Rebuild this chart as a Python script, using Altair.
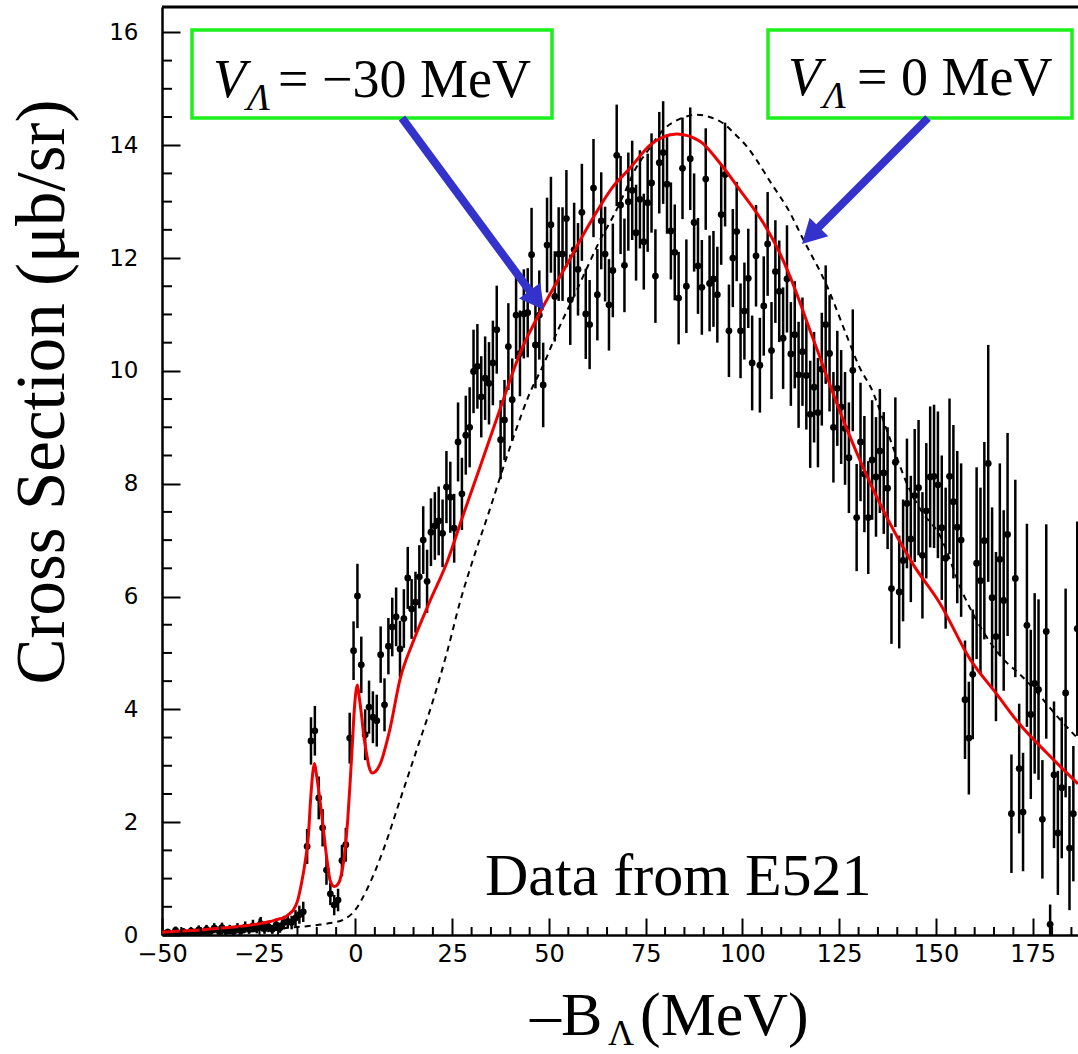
import altair as alt
import pandas as pd

# ---------------- data ----------------
BIN_CENTERS = [i + 0.5 for i in range(-50, 187)]  # 1 MeV bins, -49.5 .. 186.5

COUNTS = [
    0.03, 0.05, 0.01, 0.08, 0.03, 0.06, 0.02, 0.07, 0.05, 0.09,
    0.04, 0.10, 0.06, 0.12, 0.08, 0.13, 0.07, 0.10, 0.06, 0.12,
    0.09, 0.14, 0.10, 0.16, 0.12, 0.20, 0.11, 0.15, 0.10, 0.18,
    0.13, 0.22, 0.24, 0.22, 0.30, 0.36, 0.41, 1.57, 3.44, 3.62,
    2.43, 1.90, 1.15, 0.73, 0.53, 0.62, 1.32, 1.60, 3.49, 5.04,
    6.01, 4.79, 3.55, 4.04, 3.86, 3.80, 4.97, 4.08, 5.12, 5.46,
    5.64, 5.07, 5.61, 6.33, 5.78, 5.90, 6.35, 7.00, 6.27, 7.14,
    7.25, 7.34, 7.12, 7.94, 7.76, 7.21, 8.74, 7.82, 8.86, 9.00,
    9.99, 10.08, 9.54, 9.87, 9.78, 10.14, 10.73, 8.78, 9.13, 10.43,
    9.49, 10.99, 10.31, 11.01, 11.03, 12.06, 10.46, 10.99, 9.75, 12.23,
    12.59, 11.32, 12.07, 12.07, 12.70, 11.26, 12.15, 11.80, 12.81, 11.01,
    10.82, 13.24, 11.35, 12.66, 12.07, 11.17, 11.78, 13.82, 12.94, 11.87,
    13.00, 13.20, 12.45, 13.04, 12.29, 12.98, 13.33, 11.68, 13.69, 13.87,
    13.31, 12.48, 12.10, 11.29, 13.59, 11.50, 13.76, 12.63, 11.86, 11.48,
    13.40, 11.55, 11.63, 11.35, 12.77, 13.48, 10.71, 12.00, 12.47, 10.71,
    11.06, 11.64, 10.14, 12.04, 10.10, 11.15, 12.25, 10.36, 11.76, 11.41,
    10.58, 11.63, 10.30, 10.64, 9.93, 10.34, 9.92, 9.23, 9.71, 9.26,
    10.03, 10.82, 10.31, 9.00, 9.69, 9.36, 8.98, 8.46, 10.01, 7.40,
    8.74, 8.17, 7.40, 8.42, 8.12, 8.58, 8.19, 7.92, 6.14, 8.38,
    6.08, 6.64, 7.65, 7.02, 7.79, 7.93, 6.73, 7.52, 8.12, 8.13,
    7.98, 7.22, 6.68, 8.13, 7.68, 7.23, 7.00, 4.17, 3.49, 4.62,
    6.59, 6.28, 6.99, 8.36, 5.98, 5.29, 6.66, 5.93, 7.10, 2.15,
    6.32, 2.95, 2.18, 5.49, 3.91, 4.46, 4.35, 2.05, 5.38, 0.19,
    2.84, 1.81, 2.61, 4.29, 1.54, 2.15, 5.43,
]

ERRORS = [
    0.05, 0.06, 0.04, 0.07, 0.05, 0.06, 0.04, 0.07, 0.06, 0.08,
    0.05, 0.08, 0.06, 0.09, 0.07, 0.09, 0.07, 0.08, 0.06, 0.09,
    0.08, 0.10, 0.08, 0.11, 0.09, 0.12, 0.09, 0.10, 0.08, 0.11,
    0.09, 0.12, 0.12, 0.12, 0.14, 0.16, 0.18, 0.31, 0.42, 0.44,
    0.38, 0.33, 0.26, 0.20, 0.18, 0.20, 0.28, 0.30, 0.45, 0.52,
    0.57, 0.50, 0.45, 0.47, 0.46, 0.46, 0.50, 0.47, 0.50, 0.52,
    0.52, 0.50, 0.52, 0.55, 0.53, 0.54, 0.56, 0.60, 0.56, 0.60,
    0.60, 0.61, 0.60, 0.64, 0.63, 0.61, 0.70, 0.64, 0.70, 0.71,
    0.74, 0.75, 0.72, 0.74, 0.73, 0.75, 0.78, 0.70, 0.71, 0.77,
    0.73, 0.78, 0.76, 0.79, 0.79, 0.83, 0.77, 0.79, 0.75, 0.84,
    0.85, 0.80, 0.83, 0.83, 0.86, 0.80, 0.83, 0.82, 0.86, 0.80,
    0.79, 0.87, 0.81, 0.86, 0.84, 0.81, 0.83, 0.90, 0.87, 0.83,
    0.87, 0.88, 0.85, 0.87, 0.85, 0.87, 0.88, 0.83, 0.90, 0.91,
    0.88, 0.86, 0.85, 0.82, 0.90, 0.83, 0.91, 0.87, 0.85, 0.84,
    0.90, 0.85, 0.85, 0.85, 0.89, 0.92, 0.82, 0.87, 0.88, 0.84,
    0.86, 0.88, 0.84, 0.90, 0.84, 0.88, 0.92, 0.86, 0.91, 0.90,
    0.90, 0.95, 0.92, 0.95, 0.94, 0.96, 0.96, 0.95, 0.98, 0.97,
    1.00, 1.05, 1.03, 0.98, 1.02, 1.01, 1.00, 0.98, 1.08, 0.95,
    1.05, 1.03, 1.00, 1.06, 1.06, 1.10, 1.08, 1.08, 0.98, 1.15,
    1.00, 1.08, 1.15, 1.12, 1.18, 1.20, 1.12, 1.20, 1.25, 1.27,
    1.30, 1.28, 1.25, 1.38, 1.36, 1.35, 1.36, 1.05, 1.00, 1.15,
    1.70, 1.65, 1.75, 2.10, 1.60, 1.50, 1.70, 1.60, 1.80, 1.05,
    1.75, 1.15, 1.05, 1.80, 1.50, 1.60, 1.60, 1.05, 1.90, 0.35,
    1.30, 1.10, 1.25, 1.85, 1.10, 1.20, 1.90,
]

# V_Lambda = -30 MeV calculation (red, solid)
RED_X = [-50, -45, -40, -35, -30, -25, -22, -20, -18.7, -17, -16, -15, -14, -13,
         -12.2, -11.6, -11.0, -10.6, -10.1, -9.2, -8.5, -7.9, -7.2, -6.6, -5.5,
         -4.8, -4.0, -3.3, -2.7, -2.0, -1.4, -0.8, -0.3, 0.5, 1.0, 1.6, 2.2, 2.7,
         3.5, 4.3, 5.2, 6.3, 8.9, 11.5, 14.9, 19.3, 23.6, 27.9, 32.2, 37.3, 42.5,
         48.5, 54.6, 60.6, 66.6, 70.9, 76.1, 83.0, 89.0, 94.2, 99.4, 105.4, 109.7,
         112.3, 118.3, 126.9, 135.5, 144.1, 151.0, 158.8, 165.7, 171.7, 178.6, 186.7]
RED_Y = [0.05, 0.07, 0.09, 0.12, 0.15, 0.20, 0.24, 0.28, 0.30, 0.38, 0.45, 0.60, 0.90, 1.30,
         1.74, 2.40, 2.90, 3.04, 2.85, 2.40, 2.00, 1.63, 1.25, 0.98, 0.86,
         0.88, 0.98, 1.20, 1.51, 2.05, 2.69, 3.40, 4.00, 4.43, 4.20, 3.87, 3.50, 3.28,
         2.98, 2.87, 2.90, 3.02, 3.65, 4.53, 5.20, 5.93, 6.60, 7.46, 8.30, 9.31, 10.31,
         11.14, 11.88, 12.62, 13.27, 13.59, 14.00, 14.20, 14.07, 13.68, 13.20, 12.62, 12.08,
         11.67, 10.56, 8.98, 7.65, 6.57, 5.88, 4.89, 4.27, 3.73, 3.23, 2.68]

# V_Lambda = 0 MeV calculation (black, dashed)
DASH_X = [-50, -40, -30, -27.3, -18.7, -12, -7.4, -3.2, -0.1, 2.9, 7.2, 11.5, 15.8, 20.1,
          23.6, 27.0, 31.3, 34.5, 37.3, 41.2, 45.0, 48.5, 52.5, 56.3, 60.0, 63.2, 66.6,
          69.5, 72.2, 75.5, 79.5, 84.0, 88.2, 91.5, 95.0, 98.0, 101.1, 104.0, 107.1,
          109.7, 111.4, 115.7, 121.8, 126.9, 130.0, 133.8, 136.5, 139.8, 142.5, 145.9,
          151.0, 157.0, 162.0, 167.4, 172.0, 176.0, 181.0, 186.7]
DASH_Y = [0.0, 0.02, 0.04, 0.06, 0.12, 0.16, 0.20, 0.27, 0.44, 0.80, 1.51, 2.39, 3.28, 4.17,
          5.00, 5.90, 6.85, 7.50, 8.10, 8.90, 9.60, 10.10, 10.75, 11.30, 11.85, 12.32, 12.74,
          13.15, 13.56, 13.90, 14.27, 14.47, 14.54, 14.50, 14.39, 14.20, 13.98, 13.70, 13.36,
          13.09, 12.91, 12.33, 11.51, 10.63, 10.10, 9.61, 9.10, 8.48, 8.00, 7.55,
          7.08, 6.05, 5.40, 4.89, 4.60, 4.31, 3.90, 3.48]

X_MAJOR = [-50, -25, 0, 25, 50, 75, 100, 125, 150, 175]
Y_MAJOR = [0, 2, 4, 6, 8, 10, 12, 14, 16]
X_MINOR = [-45, -40, -35, -30, -20, -15, -10, -5, 5, 10, 15, 20, 30, 35, 40, 45,
           55, 60, 65, 70, 80, 85, 90, 95, 105, 110, 115, 120, 130, 135, 140, 145,
           155, 160, 165, 170, 180, 185]
Y_MINOR = [0.5, 1, 1.5, 2.5, 3, 3.5, 4.5, 5, 5.5, 6.5, 7, 7.5, 8.5, 9, 9.5,
           10.5, 11, 11.5, 12.5, 13, 13.5, 14.5, 15, 15.5]

# ---------------- chart ----------------
W, H = 916, 928
XDOM = [-50, 186.7]
YDOM = [0, 16.45]

df = pd.DataFrame({"x": BIN_CENTERS, "y": COUNTS, "err": ERRORS})
df["lo"] = df["y"] - df["err"]
df["hi"] = df["y"] + df["err"]
red = pd.DataFrame({"x": RED_X, "y": RED_Y})
dash = pd.DataFrame({"x": DASH_X, "y": DASH_Y})

xs = alt.Scale(domain=XDOM, nice=False, zero=False)
ys = alt.Scale(domain=YDOM, nice=False, zero=False)

xaxis = alt.Axis(
    values=X_MAJOR, title=None, grid=False, format="d",
    tickSize={"expr": "-17"},
    labelPadding=24, labelFlush=False, labelOverlap=False,
    labelFont="DejaVu Sans", labelFontSize=24, labelColor="black",
    domainColor="black", domainWidth=2.5, tickColor="black", tickWidth=2,
)
yaxis = alt.Axis(
    values=Y_MAJOR, title=None, grid=False, format="d",
    tickSize={"expr": "-18"},
    labelPadding=42, labelFlush=False, labelOverlap=False,
    labelFont="DejaVu Sans", labelFontSize=23, labelColor="black",
    domainColor="black", domainWidth=2.5, tickColor="black", tickWidth=2,
)

bars = alt.Chart(df).mark_rule(color="black", strokeWidth=2.5, clip=True).encode(
    x=alt.X("x:Q", scale=xs, axis=xaxis),
    y=alt.Y("lo:Q", scale=ys, axis=yaxis),
    y2="hi:Q",
)
pts = alt.Chart(df).mark_circle(color="black", size=46, opacity=1, clip=True).encode(
    x=alt.X("x:Q", scale=xs), y=alt.Y("y:Q", scale=ys)
)
dash_line = alt.Chart(dash).mark_line(
    color="black", strokeWidth=2, strokeDash=[6, 5], interpolate="monotone", clip=True
).encode(x=alt.X("x:Q", scale=xs), y=alt.Y("y:Q", scale=ys))
red_line = alt.Chart(red).mark_line(
    color="#ee0000", strokeWidth=3, interpolate="monotone", clip=True
).encode(x=alt.X("x:Q", scale=xs), y=alt.Y("y:Q", scale=ys))

# minor ticks (inside the frame, like the ROOT style of the reference)
xminor = alt.Chart(pd.DataFrame({"v": X_MINOR})).mark_rule(color="black", strokeWidth=2).encode(
    x=alt.X("v:Q", scale=xs), y=alt.value(H), y2=alt.value(H - 8)
)
yminor = alt.Chart(pd.DataFrame({"v": Y_MINOR})).mark_rule(color="black", strokeWidth=2).encode(
    y=alt.Y("v:Q", scale=ys), x=alt.value(0), x2=alt.value(10)
)

one = alt.Data(values=[{"k": 1}])

top_border = alt.Chart(one).mark_rule(color="black", strokeWidth=3).encode(
    x=alt.value(0), x2=alt.value(W), y=alt.value(0)
)


def box(x0, y0, x1, y1):
    return alt.Chart(one).mark_rect(fill="white", stroke="#1cf01c", strokeWidth=3.5).encode(
        x=alt.value(x0), x2=alt.value(x1), y=alt.value(y0), y2=alt.value(y1)
    )


def txt(s, x, y, size, style="normal", align="left", angle=0, font="Liberation Serif"):
    return alt.Chart(one).mark_text(
        text=s, font=font, fontSize=size, fontStyle=style, align=align,
        baseline="alphabetic", angle=angle, color="black"
    ).encode(x=alt.value(x), y=alt.value(y))


ARROW = "#3333cc"
HEAD = "M0,0L-0.55,1L0.55,1Z"


def arrow(x0, y0, x1, y1, tx, ty, ang):
    shaft = alt.Chart(one).mark_rule(color=ARROW, strokeWidth=8).encode(
        x=alt.value(x0), y=alt.value(y0), x2=alt.value(x1), y2=alt.value(y1)
    )
    head = alt.Chart(one).mark_point(
        shape=HEAD, filled=True, size=2304, angle=ang, color=ARROW, opacity=1, strokeWidth=0
    ).encode(x=alt.value(tx), y=alt.value(ty))
    return shaft + head


layers = [
    bars, pts, dash_line, red_line, xminor, yminor, top_border,
    box(30, 23, 390, 111),
    box(606, 23, 910, 111),
    txt("V", 51, 90, 54, "italic"),
    txt("Λ", 85, 103, 38, "italic"),
    txt("= −30 MeV", 116, 90, 54),
    txt("V", 626, 88, 54, "italic"),
    txt("Λ", 661, 101, 38, "italic"),
    txt("= 0 MeV", 695, 88, 54),
    arrow(240, 111, 370, 287, 382, 303, 143.4),
    arrow(766, 111, 654, 223, 640, 237, 225),
    txt("Data from E521", 323, 888, 60),
    txt("Cross Section (μb/sr)", -98, 385, 69, angle=270, align="center"),
    txt("–B", 368, 1028, 62),
    txt("Λ", 446, 1038, 36),
    txt("(MeV)", 478, 1028, 62),
]

chart = alt.layer(*layers).properties(
    width=W, height=H,
    padding={"left": 162, "top": 7, "right": 0, "bottom": 119},
    autosize=alt.AutoSizeParams(type="none"),
    background="white",
).configure_view(stroke=None)

chart.save("out.html", embed_options={"renderer": "svg", "actions": False})
